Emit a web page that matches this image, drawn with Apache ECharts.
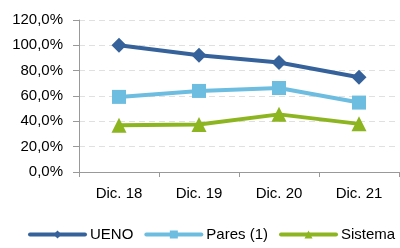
<!DOCTYPE html>
<html><head><meta charset="utf-8">
<script src="https://cdn.jsdelivr.net/npm/echarts@6/dist/echarts.min.js"></script>
<style>html,body{margin:0;padding:0;background:#fff}#c{width:400px;height:248px}</style>
</head><body><div id="c"></div>
<script>
const categories = ['Dic. 18', 'Dic. 19', 'Dic. 20', 'Dic. 21'];
const ueno = [100.0, 92.2, 86.5, 74.8];
const pares = [59.3, 64.0, 66.3, 54.8];
const sistema = [37.0, 37.5, 45.5, 38.0];
const yTicks = { min: 0, max: 120, interval: 20 };

const font = 'Liberation Sans, Arial, sans-serif';
const chart = echarts.init(document.getElementById('c'), null, { renderer: 'canvas' });
function mk(name, data, color, symbol, size) {
  return {
    name, type: 'line', data, symbol, symbolSize: size,
    lineStyle: { color, width: 4 },
    itemStyle: { color },
    emphasis: { disabled: true },
    animation: false
  };
}
chart.setOption({
  animation: false,
  grid: { left: 79, right: 1, top: 20, bottom: 76, containLabel: false },
  legend: {
    top: 227, left: 28, width: 400, padding: 0, itemWidth: 55, itemHeight: 10, itemGap: 11,
    lineStyle: { width: 4, cap: 'round' },
    textStyle: { fontFamily: font, fontSize: 15, color: '#000' },
    data: ['UENO', 'Pares (1)', 'Sistema']
  },
  xAxis: {
    type: 'category', data: categories, boundaryGap: true,
    axisLine: { lineStyle: { color: '#999', width: 1 } },
    axisTick: { show: true, length: 5, lineStyle: { color: '#999' } },
    axisLabel: { fontFamily: font, fontSize: 15, color: '#000', margin: 14 }
  },
  yAxis: {
    type: 'value', min: yTicks.min, max: yTicks.max, interval: yTicks.interval,
    axisLine: { show: true, lineStyle: { color: '#999', width: 1 } },
    axisTick: { show: true, length: 6, lineStyle: { color: '#999' } },
    splitLine: { lineStyle: { color: '#e0e0e0', type: [6, 4] } },
    axisLabel: { fontFamily: font, fontSize: 15, color: '#000', margin: 16,
      formatter: v => v.toFixed(1).replace('.', ',') + '%' }
  },
  series: [
    mk('UENO', ueno, '#35629A', 'diamond', 15),
    mk('Pares (1)', pares, '#6CBDE0', 'rect', 14),
    mk('Sistema', sistema, '#8DB520', 'triangle', 15)
  ]
});
</script></body></html>
